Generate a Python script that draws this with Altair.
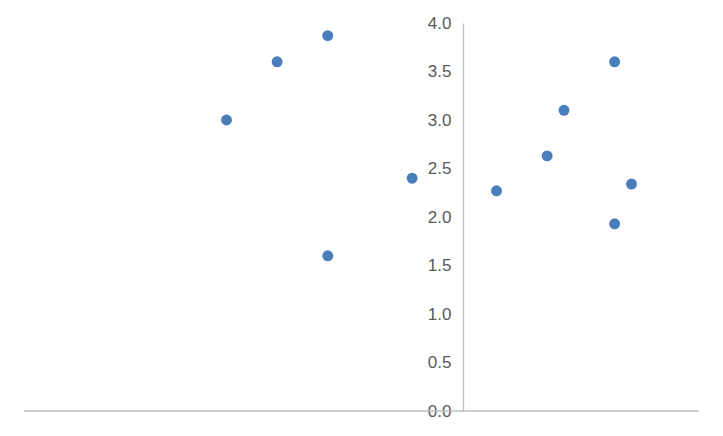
import altair as alt
import pandas as pd

x_vals = [-14, -11, -8, -8, -3, 2, 5, 6, 9, 9, 10]
y_vals = [3.0, 3.6, 3.87, 1.6, 2.4, 2.27, 2.63, 3.1, 3.6, 1.93, 2.34]
y_ticks = [0.0, 0.5, 1.0, 1.5, 2.0, 2.5, 3.0, 3.5, 4.0]

df = pd.DataFrame({"x": x_vals, "y": y_vals})
xs = alt.Scale(domain=[-26, 14], nice=False, zero=False)
ys = alt.Scale(domain=[0, 4], nice=False)

y_axis = alt.Axis(
    values=y_ticks, format=".1f", title=None, grid=False, ticks=False,
    domainColor="#bfbfbf", domainWidth=1.3, labelColor="#595959",
    labelFont="Liberation Sans", labelFontSize=17, labelPadding=12,
    offset=-439)

points = alt.Chart(df).mark_circle(size=120, color="#4a7ebb", opacity=1).encode(
    x=alt.X("x:Q", scale=xs, axis=None),
    y=alt.Y("y:Q", scale=ys, axis=y_axis),
)

x_axis_rule = alt.Chart(pd.DataFrame({"y": [0]})).mark_rule(color="#bfbfbf", strokeWidth=1.3).encode(
    y=alt.Y("y:Q", scale=ys, axis=y_axis)
)

chart = alt.layer(points, x_axis_rule).properties(
    width=675, height=388,
    autosize=alt.AutoSizeParams(type="none"),
    padding={"left": 16, "top": 15, "right": 16, "bottom": 17},
).configure_view(stroke=None)

chart.save("out.html", embed_options={"renderer": "svg", "actions": False})
